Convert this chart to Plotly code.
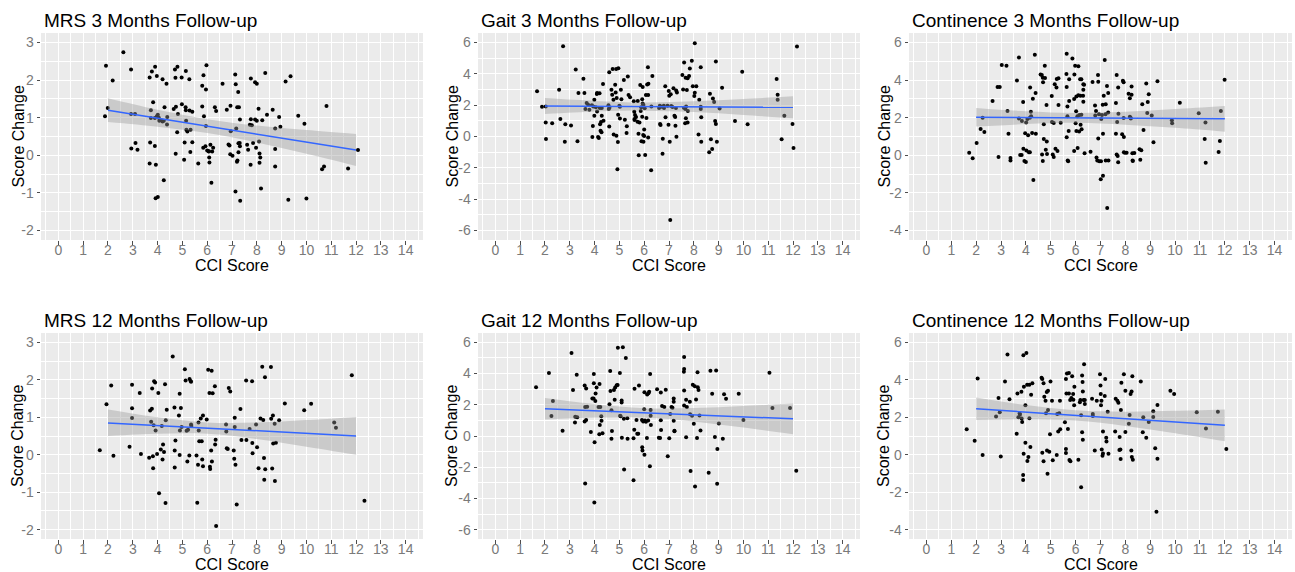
import plotly.graph_objects as go

# ---------------- data ----------------
cci_ticks = list(range(0, 15))
band_x = [2, 4, 6, 8, 10, 12]

mrs_ticks = [-2, -1, 0, 1, 2, 3]
gait_ticks = [-6, -4, -2, 0, 2, 4, 6]
cont_ticks = [-4, -2, 0, 2, 4, 6]

mrs3_pts = [(1.92,2.38),(1.99,1.26),(1.88,1.04),(2.19,1.99),(2.62,2.74),(2.93,2.28),(2.93,1.10),(3.09,1.10),(3.11,0.33),(2.94,0.18),(3.19,0.15),
(3.68,2.07),(3.77,2.23),(3.90,2.35),(3.97,2.11),(3.82,1.41),(3.73,1.20),(3.73,0.99),(3.89,0.99),(3.97,1.04),(4.01,1.08),(4.05,1.00),(4.07,0.92),(4.15,0.93),(4.20,0.90),(4.25,0.92),(4.20,2.02),(4.36,1.90),(4.28,1.28),(4.39,1.02),(4.38,0.82),
(3.70,0.34),(3.89,0.25),(3.68,-0.22),(3.93,-0.25),(3.92,-1.14),(4.01,-1.11),(4.25,-0.66),
(4.70,2.28),(4.80,2.35),(4.72,2.06),(4.97,2.07),(5.14,2.24),(5.28,2.02),(4.65,1.23),(4.74,1.29),(4.82,1.10),(4.98,1.36),(5.13,1.28),(5.15,0.92),(5.14,1.20),(5.29,1.19),(5.40,1.16),
(4.79,0.61),(5.16,0.68),(5.20,0.63),(5.33,0.68),(4.73,0.04),(5.09,0.34),(5.07,-0.12),(5.32,0.09),(5.40,0.35),(5.64,-0.22),
(5.85,2.13),(5.80,1.85),(5.95,1.75),(5.97,2.39),(5.80,1.30),(5.87,1.04),(5.95,0.78),(5.93,0.24),(5.84,0.20),(6.00,0.13),(6.07,0.11),(6.13,0.28),(6.20,0.10),(6.06,0.10),(6.08,-0.06),(6.09,-0.19),(6.17,-0.73),(6.24,0.20),(6.31,1.28),(6.36,1.18),(6.62,1.90),(6.79,1.21),(6.94,1.32),(6.95,0.64),(6.86,0.29),(6.90,0.26),(6.93,0.03),(7.02,-0.01),
(7.13,2.15),(7.15,1.89),(7.21,1.28),(7.17,0.71),(7.25,1.68),(7.28,1.28),(7.32,0.95),(7.26,0.32),(7.26,0.08),(7.20,-0.17),(7.22,-0.14),(7.14,-0.96),(7.33,-1.21),(7.32,0.24),(7.31,0.33),
(7.76,2.04),(7.93,1.94),(8.00,1.90),(7.76,0.96),(7.80,0.80),(8.00,0.92),(7.93,0.95),(7.72,0.81),(7.61,0.28),(7.65,0.15),(7.75,-0.25),(7.85,0.33),(7.97,0.20),(8.07,1.24),(8.09,0.37),(8.11,0.05),(8.14,-0.06),(8.11,-0.20),(8.17,-0.88),(8.34,2.19),(8.22,0.93),(8.41,1.08),(8.64,1.21),(8.74,0.71),(8.90,1.02),(8.95,0.76),(8.74,0.17),(8.74,-0.30),
(9.16,1.96),(9.36,2.10),(9.67,1.05),(9.92,0.84),(9.27,-1.18),(10.00,-1.15),(10.63,-0.37),(10.71,-0.30),(10.81,1.31),(11.68,-0.35),(12.08,0.14)]
mrs3_fit = [1.20, 0.99, 0.78, 0.56, 0.35, 0.14]
mrs3_up = [1.515, 1.21, 0.96, 0.79, 0.67, 0.565]
mrs3_lo = [0.885, 0.76, 0.59, 0.34, 0.04, -0.285]

gait3_pts = [(1.68,2.88),(1.88,1.90),(2.03,1.92),(2.03,0.90),(2.04,-0.16),(2.29,0.84),(2.57,2.98),(2.62,1.11),(2.73,5.75),(2.82,0.78),(2.80,-0.33),(3.05,0.70),(3.24,4.28),(3.31,-0.31),(3.35,2.77),(3.55,3.68),(3.59,2.77),(3.63,1.75),(3.68,2.13),(3.74,2.03),(3.79,1.71),(3.89,2.00),(3.93,0.67),(3.91,-0.03),(3.95,1.92),(3.99,2.34),(3.99,1.33),(4.05,1.86),(4.09,2.71),(4.10,1.60),(4.10,2.77),(4.14,-0.03),(4.20,2.75),(4.21,1.82),(4.22,0.78),(4.24,0.37),(4.17,-0.10),(4.26,0.93),(4.28,0.27),(4.29,1.33),(4.29,1.82),(4.34,3.34),(4.36,1.01),
(4.59,4.09),(4.56,2.00),(4.57,1.75),(4.59,0.63),(4.60,1.84),(4.68,2.98),(4.71,2.67),(4.73,4.30),(4.76,2.34),(4.77,0.12),(4.83,3.30),(4.85,2.81),(4.87,4.31),(4.88,0.05),(4.89,2.45),(4.92,-2.09),(4.94,-0.35),(4.95,1.39),(4.96,4.35),(5.00,1.96),(5.02,1.14),(5.02,1.90),(5.06,2.98),(5.08,2.37),(5.18,3.60),(5.22,1.07),(5.29,0.22),(5.30,0.65),(5.34,3.82),(5.37,2.64),(5.43,2.50),
(5.58,2.24),(5.60,1.58),(5.61,1.11),(5.61,1.05),(5.63,1.37),(5.67,1.24),(5.74,2.26),(5.73,0.94),(5.77,0.18),(5.78,-1.20),(5.81,0.90),(5.84,3.28),(5.86,1.62),(5.88,1.86),(5.89,-0.31),(5.92,2.37),(5.92,1.26),(5.94,3.15),(5.94,2.11),(5.97,2.01),(5.96,0.10),(5.97,-0.33),(6.00,0.44),(6.00,0.03),(6.02,1.80),(6.04,-1.18),(6.07,2.64),(6.09,1.18),(6.12,3.32),(6.15,4.41),(6.16,2.64),(6.16,-0.07),(6.17,3.36),(6.28,-2.16),(6.29,1.92),(6.33,3.85),
(6.60,1.82),(6.63,1.96),(6.64,0.80),(6.66,0.73),(6.71,1.90),(6.74,-1.10),(6.75,-0.14),(6.79,1.96),(6.80,1.82),(6.85,3.20),(6.86,1.22),(6.94,1.96),(6.98,0.75),(6.99,2.90),(7.01,2.60),(7.03,-0.33),(7.05,-5.32),(7.07,2.69),(7.09,1.94),(7.14,1.88),(7.18,3.07),(7.22,1.33),(7.25,1.24),(7.26,0.69),(7.28,1.82),(7.29,2.94),(7.32,2.81),(7.30,-0.01),
(7.54,3.92),(7.61,4.72),(7.67,3.75),(7.75,3.71),(7.81,3.85),(7.57,3.00),(7.72,2.96),(7.60,1.84),(7.66,1.75),(7.69,1.92),(7.68,1.16),(7.65,0.84),(7.75,0.90),(7.76,1.62),(7.84,4.34),(7.92,4.83),(7.96,3.20),(8.02,2.58),(8.04,5.94),(8.04,2.79),(8.10,3.20),(8.19,0.12),(8.22,2.35),(8.28,4.41),(8.28,1.90),(8.28,1.75),(8.30,1.22),(8.30,-0.33),
(8.65,2.73),(8.69,-0.18),(8.62,-1.01),(8.74,-0.80),(8.77,2.43),(8.82,2.20),(8.86,0.99),(8.89,0.80),(8.89,4.79),(8.93,-0.33),(9.04,1.79),(9.14,3.11),(9.66,0.99),(9.95,4.13),(10.17,0.78),(11.34,3.66),(11.38,2.67),(11.38,2.35),(11.65,1.33),(11.54,-0.18),(11.98,0.80),(12.02,-0.73),(12.16,5.74)]
gait3_fit = [1.94, 1.93, 1.91, 1.90, 1.88, 1.86]
gait3_up = [2.45, 2.27, 2.17, 2.24, 2.39, 2.56]
gait3_lo = [1.43, 1.59, 1.65, 1.56, 1.37, 1.16]

cont3_pts = [(1.72,0.14),(1.86,-0.16),(2.02,0.65),(2.18,1.40),(2.26,2.00),(2.33,1.24),(2.66,2.88),(2.86,3.63),(2.95,3.63),(2.90,-0.09),(3.03,4.80),(3.22,4.76),(3.26,2.35),(3.30,1.15),(3.38,-0.14),(3.38,-0.28),(3.64,3.98),(3.72,5.20),(3.72,1.96),(3.77,0.02),(3.83,0.02),(3.84,1.82),(3.90,0.35),(3.89,2.83),(3.94,-0.30),(3.97,1.17),(4.00,-0.35),(4.01,1.75),(4.02,0.25),(4.06,1.93),(4.09,1.06),(4.12,0.16),(4.16,2.00),(4.16,0.16),(4.17,3.61),(4.20,2.32),(4.21,2.07),(4.25,1.19),(4.28,3.01),(4.30,-1.31),(4.36,5.35),(4.39,3.31),(4.40,1.15),
(4.59,4.30),(4.64,4.27),(4.68,4.12),(4.69,3.88),(4.65,0.05),(4.68,-0.30),(4.72,1.65),(4.72,0.87),(4.76,4.76),(4.77,4.11),(4.80,0.30),(4.83,2.67),(4.84,0.74),(4.85,0.07),(5.04,3.15),(5.05,1.77),(5.08,0.05),(5.12,-0.09),(5.12,1.72),(5.16,3.77),(5.19,0.35),(5.23,3.61),(5.24,4.05),(5.27,0.23),(5.31,4.09),(5.31,2.67),(5.40,1.73),
(5.63,4.32),(5.64,5.40),(5.64,0.96),(5.64,3.63),(5.67,2.60),(5.67,2.07),(5.68,-0.27),(5.70,-0.32),(5.74,4.04),(5.74,2.88),(5.72,1.29),(5.87,5.15),(5.94,2.99),(5.94,0.23),(5.95,4.30),(5.98,4.76),(6.00,1.70),(6.02,2.34),(6.03,3.13),(6.03,1.29),(6.07,2.07),(6.08,0.39),(6.11,3.19),(6.11,4.73),(6.14,1.27),(6.15,2.14),(6.18,4.04),(6.19,3.17),(6.20,1.63),(6.23,4.04),(6.23,2.16),(6.24,1.38),(6.30,3.17),(6.31,2.85),(6.31,3.77),(6.31,3.49),(6.34,3.75),(6.36,0.11),
(6.60,0.19),(6.68,3.89),(6.78,2.65),(6.79,2.11),(6.82,2.35),(6.84,-0.11),(6.87,-0.27),(6.90,4.27),(6.91,3.91),(6.91,0.90),(6.94,2.18),(6.95,-0.32),(7.01,-1.27),(7.02,-0.32),(7.03,1.93),(7.06,2.14),(7.09,2.69),(7.10,1.15),(7.10,-1.08),(7.13,3.17),(7.17,5.06),(7.20,2.18),(7.21,2.71),(7.21,-0.27),(7.26,3.68),(7.27,-2.80),(7.31,3.31),(7.31,2.28),(7.32,-0.28),
(7.62,2.78),(7.62,1.15),(7.65,4.27),(7.65,0.05),(7.67,1.77),(7.69,-0.04),(7.71,3.61),(7.71,-0.37),(7.72,2.21),(7.87,1.12),(7.90,3.96),(7.93,1.98),(7.93,3.88),(7.94,0.97),(7.94,0.16),(7.98,0.14),(8.05,0.14),(8.13,3.27),(8.18,3.03),(8.18,2.05),(8.21,2.00),(8.22,1.96),(8.25,3.66),(8.25,3.22),(8.28,0.11),(8.29,-0.27),(8.30,-0.30),(8.36,0.12),
(8.57,0.32),(8.60,-0.23),(8.64,0.27),(8.68,2.71),(8.73,1.35),(8.84,3.81),(8.88,2.25),(8.90,2.83),(8.94,3.24),(9.06,2.11),(9.13,0.69),(9.29,3.93),(9.87,1.86),(9.88,1.70),(10.19,2.80),(10.95,2.23),(11.19,0.87),(11.22,1.75),(11.23,-0.39),(11.75,0.18),(11.80,0.76),(11.84,2.35),(11.99,4.02)]
cont3_fit = [2.02, 2.00, 1.99, 1.97, 1.96, 1.94]
cont3_up = [2.515, 2.34, 2.25, 2.31, 2.46, 2.625]
cont3_lo = [1.525, 1.66, 1.73, 1.63, 1.46, 1.255]

mrs12_pts = [(1.67,0.12),(1.94,1.35),(2.13,1.85),(2.22,-0.03),(2.87,0.21),(2.97,1.87),(2.97,1.24),(2.97,0.98),(3.28,1.65),(3.33,0.02),(3.66,-0.08),(3.70,1.18),(3.74,0.88),(3.77,1.23),(3.78,1.77),(3.81,-0.04),(3.82,-0.36),(3.84,0.79),(3.86,1.96),(3.90,1.93),(3.92,0.65),(3.98,0.02),(4.03,1.65),(4.06,-1.03),(4.13,0.14),(4.17,0.77),(4.20,-0.13),(4.22,0.27),(4.26,0.07),(4.30,1.88),(4.32,-1.29),(4.33,0.92),(4.37,1.20),
(4.61,2.62),(4.68,1.26),(4.69,0.11),(4.69,-0.34),(4.72,0.38),(4.86,1.05),(4.89,1.63),(4.89,-0.01),(4.90,0.65),(4.94,1.25),(4.97,0.74),(5.10,2.28),(5.13,1.98),(5.17,0.64),(5.20,-0.18),(5.23,0.67),(5.28,-0.02),(5.29,2.02),(5.33,1.97),(5.35,1.95),(5.35,0.81),(5.36,0.77),
(5.57,-0.02),(5.60,-1.28),(5.63,-0.27),(5.65,0.86),(5.66,0.65),(5.68,0.36),(5.74,0.97),(5.78,0.36),(5.80,-0.13),(5.83,1.05),(5.83,-0.31),(5.98,0.94),(6.04,2.27),(6.09,1.65),(6.11,-0.32),(6.12,-0.38),(6.16,0.11),(6.18,2.24),(6.19,-0.18),(6.22,1.64),(6.31,1.83),(6.32,0.27),(6.34,0.40),(6.36,-1.90),
(6.76,0.81),(6.77,0.62),(6.79,0.17),(6.83,0.15),(6.87,1.78),(6.93,1.69),(7.07,0.11),(7.09,-0.11),(7.11,0.99),(7.14,-0.27),(7.11,0.74),(7.19,-1.33),(7.34,1.22),(7.38,0.39),
(7.57,1.98),(7.58,0.39),(7.71,0.69),(7.81,1.96),(7.83,0.04),(7.82,0.31),(7.97,0.81),(8.01,0.20),(8.07,-0.36),(8.15,0.97),(8.22,2.35),(8.26,0.93),(8.29,-0.09),(8.30,-0.67),(8.33,2.07),(8.34,-0.39),(8.57,2.34),(8.58,0.96),(8.62,-0.37),(8.65,1.05),(8.66,0.30),(8.72,0.83),(8.73,-0.70),(8.77,0.32),(8.90,0.92),
(9.13,1.37),(9.91,1.19),(10.19,1.36),(11.12,0.86),(11.19,0.72),(11.83,2.12),(12.34,-1.23)]
mrs12_fit = [0.85, 0.78, 0.71, 0.64, 0.57, 0.50]
mrs12_up = [1.21, 1.00, 0.86, 0.86, 0.925, 1.01]
mrs12_lo = [0.50, 0.56, 0.56, 0.42, 0.215, 0.0]

gait12_pts = [(1.64,3.12),(2.16,4.03),(2.32,2.25),(2.26,1.28),(2.71,0.34),(3.07,5.32),(3.13,2.95),(3.21,0.86),(3.22,1.24),(3.28,3.92),(3.30,1.20),(3.60,3.23),(3.62,-3.04),(3.66,3.04),(3.60,0.93),(3.62,1.86),(3.70,1.88),(3.66,1.03),(3.85,0.25),(3.91,2.41),(3.96,2.41),(3.97,3.97),(3.97,3.38),(3.99,-4.26),(4.00,-0.40),(4.03,2.24),(4.04,2.72),(4.08,3.10),(4.16,1.86),(4.19,0.11),(4.20,3.33),(4.21,0.70),(4.23,1.86),(4.27,1.27),(4.28,0.97),(4.32,0.17),
(4.63,4.16),(4.60,2.03),(4.64,2.89),(4.68,1.65),(4.68,-0.17),(4.70,0.32),(4.78,2.95),(4.81,2.32),(4.83,3.10),(4.89,3.25),(4.93,3.27),(4.94,5.66),(5.02,4.03),(5.03,1.29),(5.05,1.27),(5.09,2.28),(5.09,2.15),(5.14,5.68),(5.10,-0.11),(5.18,1.10),(5.19,-2.15),(5.26,5.00),(5.32,1.14),(5.33,-0.17),
(5.57,-2.83),(5.57,-0.15),(5.60,0.40),(5.61,3.02),(5.69,1.03),(5.72,0.15),(5.76,0.15),(5.79,3.23),(5.91,1.03),(5.92,-0.72),(5.93,-0.93),(5.96,0.93),(6.00,1.71),(6.01,2.81),(6.01,-1.20),(6.03,0.99),(6.07,0.91),(6.11,-0.13),(6.12,2.66),(6.16,0.99),(6.17,2.74),(6.20,2.83),(6.23,-1.94),(6.24,3.97),(6.26,1.67),(6.26,1.29),(6.27,0.70),
(6.52,3.00),(6.59,-0.11),(6.64,-0.13),(6.67,2.78),(6.67,1.01),(6.68,0.38),(6.72,1.92),(6.81,1.86),(6.87,2.97),(6.95,-1.29),(7.01,-0.15),(7.05,1.41),(7.10,1.86),(7.14,1.81),(7.19,2.41),(7.19,2.19),(7.19,0.97),(7.22,0.34),(7.22,0.30),
(7.61,5.06),(7.60,4.11),(7.61,4.30),(7.61,2.91),(7.61,1.96),(7.69,2.32),(7.69,-0.08),(7.72,1.86),(7.84,2.19),(7.85,1.39),(7.87,-2.24),(7.93,1.29),(7.96,3.29),(8.00,0.78),(8.04,3.19),(8.05,-3.23),(8.09,2.34),(8.13,-0.13),(8.15,4.09),(8.16,3.12),(8.19,2.95),(8.23,1.31),(8.27,0.36),
(8.60,-2.36),(8.67,4.18),(8.74,2.70),(8.85,-0.06),(8.90,4.20),(8.94,-3.06),(8.95,-0.84),(9.01,0.80),(9.17,-0.17),(9.22,2.68),(9.30,2.38),(9.81,2.70),(10.00,1.03),(11.05,4.05),(11.17,1.79),(11.88,1.79),(12.13,-2.22)]
gait12_fit = [1.74, 1.61, 1.485, 1.36, 1.23, 1.10]
gait12_up = [2.43, 2.04, 1.785, 1.79, 1.92, 2.08]
gait12_lo = [1.05, 1.18, 1.185, 0.93, 0.54, 0.12]

cont12_pts = [(1.62,1.36),(1.94,0.74),(2.06,4.07),(2.26,-0.02),(2.80,2.04),(2.90,3.03),(2.95,2.27),(2.99,-0.09),(3.16,3.91),(3.26,5.35),(3.34,2.96),(3.63,1.12),(3.66,3.27),(3.70,2.00),(3.75,2.21),(3.76,2.14),(3.82,3.36),(3.83,1.93),(3.85,1.75),(3.89,-1.35),(3.89,-1.08),(3.90,5.31),(3.91,0.05),(3.92,3.63),(3.98,2.64),(3.98,0.64),(4.02,5.43),(4.05,3.73),(4.06,-0.34),(4.10,-0.12),(4.14,3.73),(4.14,1.95),(4.18,0.41),(4.21,3.20),(4.26,3.82),
(4.63,4.11),(4.66,4.04),(4.66,0.11),(4.71,-0.35),(4.71,3.82),(4.74,3.10),(4.79,2.88),(4.81,2.21),(4.84,3.35),(4.85,0.23),(4.87,-1.01),(4.89,2.39),(4.89,3.42),(4.94,0.16),(4.97,1.10),(4.99,3.91),(5.05,2.88),(5.08,-0.30),(5.24,-0.02),(5.26,2.18),(5.30,1.24),(5.34,2.21),(5.37,2.88),(5.38,1.36),
(5.57,1.73),(5.61,4.05),(5.61,0.30),(5.61,0.09),(5.63,3.27),(5.65,4.34),(5.69,1.38),(5.73,4.37),(5.73,3.27),(5.75,-0.28),(5.78,2.92),(5.79,-0.35),(5.83,3.03),(5.86,4.19),(5.90,3.24),(5.91,2.94),(5.95,3.63),(5.94,2.64),(6.11,-0.27),(6.17,2.80),(6.19,2.92),(6.22,2.11),(6.22,-1.73),(6.26,4.23),(6.26,1.20),(6.28,3.88),(6.29,3.38),(6.29,0.80),(6.32,2.92),(6.34,4.83),(6.37,2.71),(6.37,2.92),
(6.66,2.99),(6.69,2.18),(6.69,2.07),(6.77,0.23),(6.85,2.88),(6.98,4.30),(7.00,3.70),(7.01,3.24),(7.02,2.64),(7.04,2.88),(7.05,0.28),(7.08,-0.05),(7.10,1.24),(7.10,0.07),(7.17,3.13),(7.19,4.04),(7.23,0.90),(7.24,0.71),(7.29,2.30),(7.32,0.05),
(7.59,1.24),(7.61,2.99),(7.68,2.88),(7.72,2.78),(7.76,0.25),(7.77,0.94),(7.80,0.28),(7.81,-0.23),(7.82,2.39),(7.84,3.84),(7.94,4.30),(8.00,3.42),(8.00,1.22),(8.14,1.65),(8.17,2.12),(8.21,3.24),(8.24,0.23),(8.25,3.38),(8.26,-0.12),(8.28,4.19),(8.30,-0.27),
(8.62,3.91),(8.70,1.20),(8.72,2.00),(8.84,0.90),(8.94,1.75),(9.12,2.32),(9.12,2.02),(9.20,0.35),(9.29,2.65),(9.29,-0.21),(9.25,-3.04),(9.81,3.42),(9.96,3.24),(10.87,2.27),(11.24,1.40),(11.72,2.30),(12.06,0.30)]
cont12_fit = [2.45, 2.274, 2.098, 1.922, 1.746, 1.57]
cont12_up = [3.05, 2.65, 2.37, 2.30, 2.35, 2.42]
cont12_lo = [1.85, 1.89, 1.83, 1.54, 1.15, 0.72]

titles = ["MRS 3 Months Follow-up", "Gait 3 Months Follow-up", "Continence 3 Months Follow-up",
          "MRS 12 Months Follow-up", "Gait 12 Months Follow-up", "Continence 12 Months Follow-up"]

# ---------------- layout geometry (pixels) ----------------
W, H = 1295, 572
col_px = [(41, 423), (478, 860), (909, 1292)]
row_px = [(33, 240), (333, 539)]
ytitle_x_px = [18, 452, 884]
title_y_px = [21, 320]
xtitle_y_px = [265.5, 564]

panels = [
    (mrs3_pts, mrs3_fit, mrs3_up, mrs3_lo, mrs_ticks, 1),
    (gait3_pts, gait3_fit, gait3_up, gait3_lo, gait_ticks, 2),
    (cont3_pts, cont3_fit, cont3_up, cont3_lo, cont_ticks, 2),
    (mrs12_pts, mrs12_fit, mrs12_up, mrs12_lo, mrs_ticks, 1),
    (gait12_pts, gait12_fit, gait12_up, gait12_lo, gait_ticks, 2),
    (cont12_pts, cont12_fit, cont12_up, cont12_lo, cont_ticks, 2),
]

FONT = "Liberation Sans, Arial, sans-serif"
NOLINE = "rgba(0,0,0,0)"
fig = go.Figure()
annotations = []
layout_axes = {}

for i, (pts, fit, up, lo, yt, step) in enumerate(panels):
    r, c = divmod(i, 3)
    n = i + 1
    xa = "x" if n == 1 else f"x{n}"
    ya = "y" if n == 1 else f"y{n}"
    xs = [p[0] for p in pts]
    ys = [p[1] for p in pts]

    fig.add_trace(go.Scatter(x=xs, y=ys, mode="markers", xaxis=xa, yaxis=ya,
                             marker=dict(size=4, color="black"), showlegend=False,
                             hoverinfo="skip"))
    fig.add_trace(go.Scatter(x=band_x, y=lo, mode="lines", xaxis=xa, yaxis=ya,
                             line=dict(width=0.1, color=NOLINE, shape="spline"),
                             showlegend=False, hoverinfo="skip"))
    fig.add_trace(go.Scatter(x=band_x, y=up, mode="lines", xaxis=xa, yaxis=ya,
                             line=dict(width=0.1, color=NOLINE, shape="spline"),
                             fill="tonexty", fillcolor="rgba(153,153,153,0.4)",
                             showlegend=False, hoverinfo="skip"))
    fig.add_trace(go.Scatter(x=band_x, y=fit, mode="lines", xaxis=xa, yaxis=ya,
                             line=dict(width=1.5, color="#3366FF"), showlegend=False,
                             hoverinfo="skip"))

    pad = 0.05 * (yt[-1] - yt[0])
    if step == 2:
        yminor = [v + 1 for v in range(yt[0] - 2, yt[-1] + 2, 2)]
    else:
        yminor = [v + 0.5 for v in range(yt[0] - 1, yt[-1] + 1)]
    x0, x1 = col_px[c]
    y0, y1 = row_px[r]
    axis_common = dict(showline=False, zeroline=False, ticks="outside", ticklen=3.5,
                       tickwidth=1, tickcolor="#4d4d4d", showgrid=True,
                       gridcolor="white", gridwidth=1.1,
                       tickfont=dict(family=FONT, size=14, color="#7a7a7a"))
    layout_axes["xaxis" if n == 1 else f"xaxis{n}"] = dict(
        axis_common, domain=[x0 / W, x1 / W], anchor=ya, range=[-0.7, 14.7],
        tickmode="array", tickvals=cci_ticks, ticktext=[str(v) for v in cci_ticks],
        ticklabelstandoff=-6,
        minor=dict(tickvals=[v + 0.5 for v in range(-1, 15)], showgrid=True,
                   gridcolor="white", gridwidth=0.5, ticks=""))
    layout_axes["yaxis" if n == 1 else f"yaxis{n}"] = dict(
        axis_common, domain=[1 - y1 / H, 1 - y0 / H], anchor=xa,
        range=[yt[0] - pad, yt[-1] + pad],
        tickmode="array", tickvals=yt, ticktext=[str(v) for v in yt],
        minor=dict(tickvals=yminor, showgrid=True, gridcolor="white",
                   gridwidth=0.5, ticks=""))

    annotations.append(dict(text=titles[i], xref="paper", yref="paper",
                            x=(x0 + 1) / W, y=1 - title_y_px[r] / H,
                            xanchor="left", yanchor="middle", showarrow=False,
                            font=dict(family=FONT, size=19, color="black")))
    annotations.append(dict(text="CCI Score", xref="paper", yref="paper",
                            x=(x0 + x1) / 2 / W, y=1 - xtitle_y_px[r] / H,
                            xanchor="center", yanchor="middle", showarrow=False,
                            borderpad=0,
                            font=dict(family=FONT, size=16, color="black")))
    annotations.append(dict(text="Score Change", xref="paper", yref="paper",
                            x=ytitle_x_px[c] / W, y=1 - (y0 + y1) / 2 / H,
                            xanchor="center", yanchor="middle", showarrow=False,
                            textangle=-90,
                            font=dict(family=FONT, size=16, color="black")))

fig.update_layout(width=W, height=H, margin=dict(l=0, r=0, t=0, b=0),
                  paper_bgcolor="white", plot_bgcolor="#EBEBEB",
                  annotations=annotations, showlegend=False, **layout_axes)

# the page body has a default 8px margin; remove it so the figure fills the window
fig.write_html("out.html", config={"displayModeBar": False},
               post_script="document.body.style.margin='0';document.body.style.overflow='hidden';")
